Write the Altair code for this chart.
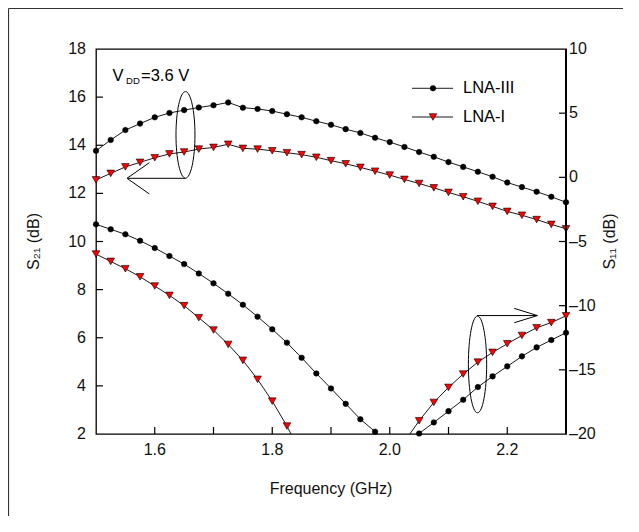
import altair as alt
import pandas as pd

FONT = "Liberation Sans"

# ---------------- data ----------------
freq = [1.5, 1.525, 1.55, 1.575, 1.6, 1.625, 1.65, 1.675, 1.7, 1.725, 1.75,
        1.775, 1.8, 1.825, 1.85, 1.875, 1.9, 1.925, 1.95, 1.975, 2.0, 2.025,
        2.05, 2.075, 2.1, 2.125, 2.15, 2.175, 2.2, 2.225, 2.25, 2.275, 2.3]

s21_lna3 = [13.77, 14.22, 14.63, 14.90, 15.16, 15.34, 15.46, 15.57, 15.66, 15.78, 15.56,
            15.51, 15.42, 15.29, 15.16, 15.00, 14.85, 14.67, 14.51, 14.31, 14.13, 13.93,
            13.72, 13.52, 13.30, 13.10, 12.90, 12.69, 12.45, 12.26, 12.07, 11.86, 11.63]

s21_lna1 = [12.56, 12.83, 13.10, 13.29, 13.48, 13.64, 13.72, 13.84, 13.91, 14.04, 13.87,
            13.84, 13.77, 13.69, 13.61, 13.50, 13.36, 13.23, 13.08, 12.92, 12.76, 12.58,
            12.41, 12.23, 12.04, 11.86, 11.67, 11.46, 11.25, 11.09, 10.91, 10.71, 10.53]

s11_lna3 = [-3.66, -4.05, -4.44, -4.94, -5.51, -6.13, -6.76, -7.49, -8.26, -9.07, -9.93,
            -10.86, -11.84, -12.89, -14.06, -15.28, -16.45, -17.65, -18.85, -19.82, -20.9, -21.0,
            -19.96, -19.10, -18.22, -17.33, -16.34, -15.51, -14.73, -13.95, -13.25, -12.68, -12.11]

s11_lna1 = [-5.98, -6.55, -7.12, -7.75, -8.47, -9.20, -10.00, -10.94, -11.90, -13.02, -14.26,
            -15.74, -17.44, -19.38, -21.6, None, None, None, None, None, None, -20.6,
            -18.97, -17.54, -16.37, -15.33, -14.40, -13.64, -12.97, -12.32, -11.72, -11.32, -10.79]

series_names = ["LNA-III", "LNA-I"]

x_label_values = [1.6, 1.8, 2.0, 2.2]
x_tick_values = [1.6, 1.7, 1.8, 1.9, 2.0, 2.1, 2.2]
s21_label_values = [2, 4, 6, 8, 10, 12, 14, 16, 18]
s21_tick_values = [4, 6, 8, 10, 12, 14, 16]
s11_label_values = [-20, -15, -10, -5, 0, 5, 10]
s11_tick_values = [-15, -10, -5, 0, 5]

x_title = "Frequency (GHz)"
y_left_title = "S₂₁ (dB)"
y_right_title = "S₁₁ (dB)"

# annotation anchors (data coordinates)
ell_left = {"x": 1.6523, "y": 14.43}
ell_right = {"x": 2.1494, "y": -14.58}
arrow_left = {"x1": [1.6523, 1.5528, 1.5528], "y1": [12.626, 12.626, 12.626],
              "x2": [1.5528, 1.5907, 1.5907], "y2": [12.626, 13.274, 11.978]}
arrow_right = {"x1": [2.1486, 2.2512, 2.2512], "y1": [-10.77, -10.77, -10.77],
               "x2": [2.2512, 2.2119, 2.2119], "y2": [-10.77, -10.21, -11.33]}
legend_rows = {"series": series_names, "y": [16.367, 15.174]}
legend_line_x = (2.0379, 2.1077)
legend_mark_x = 2.0736
legend_text_x = 2.1247

W, H = 470, 385

# ---------------- frames ----------------
s21 = pd.DataFrame({"freq": freq * 2, "val": s21_lna3 + s21_lna1,
                    "series": [series_names[0]] * len(freq) + [series_names[1]] * len(freq)})
s11 = pd.DataFrame({"freq": freq * 2, "val": s11_lna3 + s11_lna1,
                    "series": [series_names[0]] * len(freq) + [series_names[1]] * len(freq)})

sx = alt.Scale(domain=[1.5, 2.3], nice=False, zero=False)
sy21 = alt.Scale(domain=[2, 18], nice=False, zero=False)
sy11 = alt.Scale(domain=[-20, 10], nice=False, zero=False)

Xn = alt.X("freq:Q", scale=sx, axis=None)
Y21n = alt.Y("val:Q", scale=sy21, axis=None)
Y11n = alt.Y("val:Q", scale=sy11, axis=None)


def txt(**kw):
    base = dict(font=FONT, fontSize=16, color="#111")
    base.update(kw)
    return base


# ---------- S21 group (left axis) ----------
line21 = alt.Chart(s21).mark_line(color="black", strokeWidth=0.9, clip=True).encode(
    x=Xn, y=Y21n, detail="series:N")
pts21_a = alt.Chart(s21[s21.series == series_names[0]]).mark_point(
    shape="circle", filled=True, fill="black", stroke="black", strokeWidth=0.5,
    size=31, opacity=1).encode(x=Xn, y=Y21n)
pts21_b = alt.Chart(s21[s21.series == series_names[1]]).mark_point(
    shape="triangle-down", filled=True, fill="red", stroke="black", strokeWidth=0.6,
    size=58, opacity=1).encode(x=Xn, y=Y21n)

ticks_left = alt.Chart(pd.DataFrame({"v": s21_tick_values})).mark_tick(
    color="black", size=7, thickness=1.2, orient="horizontal", opacity=1).encode(
    y=alt.Y("v:Q", scale=sy21, axis=None), x=alt.value(3.5))
ticks_bottom = alt.Chart(pd.DataFrame({"f": x_tick_values})).mark_tick(
    color="black", size=7, thickness=1.2, orient="vertical", opacity=1).encode(
    x=alt.X("f:Q", scale=sx, axis=None), y=alt.value(H - 3.5))

labels_left = alt.Chart(pd.DataFrame({"v": s21_label_values})).transform_calculate(
    lab="format(datum.v, 'd')").mark_text(**txt(align="right", baseline="middle")).encode(
    y=alt.Y("v:Q", scale=sy21, axis=None), x=alt.value(-10), text="lab:N")
labels_bottom = alt.Chart(pd.DataFrame({"f": x_label_values})).transform_calculate(
    lab="format(datum.f, '.1f')").mark_text(**txt(align="center", baseline="alphabetic")).encode(
    x=alt.X("f:Q", scale=sx, axis=None), y=alt.value(H + 20.5), text="lab:N")
title_left = alt.Chart(pd.DataFrame({"t": [y_left_title]})).mark_text(
    **txt(align="center", baseline="middle", angle=270)).encode(
    x=alt.value(-62), y=alt.value(H / 2), text="t:N")
title_bottom = alt.Chart(pd.DataFrame({"t": [x_title]})).mark_text(
    **txt(align="center", baseline="alphabetic")).encode(
    x=alt.value(W / 2), y=alt.value(H + 60), text="t:N")

ELL_L = "M -0.219,0 A 0.219,1 0 1,0 0.219,0 A 0.219,1 0 1,0 -0.219,0 Z"
ell_l = alt.Chart(pd.DataFrame({"x": [ell_left["x"]], "y": [ell_left["y"]]})).mark_point(
    shape=ELL_L, size=7500, filled=False, stroke="black", strokeWidth=1, opacity=1).encode(
    x=alt.X("x:Q", scale=sx, axis=None), y=alt.Y("y:Q", scale=sy21, axis=None))
arr_l = alt.Chart(pd.DataFrame(arrow_left)).mark_rule(color="black", strokeWidth=1).encode(
    x=alt.X("x1:Q", scale=sx, axis=None), x2="x2:Q",
    y=alt.Y("y1:Q", scale=sy21, axis=None), y2="y2:Q")

vdd_v = alt.Chart(pd.DataFrame({"x": [1.5281], "y": [16.67], "t": ["V"]})).mark_text(
    font=FONT, fontSize=16.5, align="left", baseline="alphabetic", color="black").encode(
    x=alt.X("x:Q", scale=sx, axis=None), y=alt.Y("y:Q", scale=sy21, axis=None), text="t:N")
vdd_dd = alt.Chart(pd.DataFrame({"x": [1.5511], "y": [16.566], "t": ["DD"]})).mark_text(
    font=FONT, fontSize=9.5, align="left", baseline="alphabetic", color="black").encode(
    x=alt.X("x:Q", scale=sx, axis=None), y=alt.Y("y:Q", scale=sy21, axis=None), text="t:N")
vdd_eq = alt.Chart(pd.DataFrame({"x": [1.5766], "y": [16.67], "t": ["=3.6 V"]})).mark_text(
    font=FONT, fontSize=16.5, align="left", baseline="alphabetic", color="black").encode(
    x=alt.X("x:Q", scale=sx, axis=None), y=alt.Y("y:Q", scale=sy21, axis=None), text="t:N")

leg = pd.DataFrame(legend_rows)
leg["x1"] = legend_line_x[0]
leg["x2"] = legend_line_x[1]
leg["xm"] = legend_mark_x
leg["xt"] = legend_text_x
leg_line = alt.Chart(leg).mark_rule(color="black", strokeWidth=0.9).encode(
    x=alt.X("x1:Q", scale=sx, axis=None), x2="x2:Q", y=alt.Y("y:Q", scale=sy21, axis=None))
leg_pa = alt.Chart(leg[leg.series == series_names[0]]).mark_point(
    shape="circle", filled=True, fill="black", stroke="black", strokeWidth=0.5,
    size=31, opacity=1).encode(x=alt.X("xm:Q", scale=sx, axis=None),
                               y=alt.Y("y:Q", scale=sy21, axis=None))
leg_pb = alt.Chart(leg[leg.series == series_names[1]]).mark_point(
    shape="triangle-down", filled=True, fill="red", stroke="black", strokeWidth=0.6,
    size=58, opacity=1).encode(x=alt.X("xm:Q", scale=sx, axis=None),
                               y=alt.Y("y:Q", scale=sy21, axis=None))
leg_txt = alt.Chart(leg).mark_text(font=FONT, fontSize=16.5, align="left",
                                   baseline="middle", color="black").encode(
    x=alt.X("xt:Q", scale=sx, axis=None), y=alt.Y("y:Q", scale=sy21, axis=None),
    text="series:N")

frame_left = alt.Chart(pd.DataFrame({"a": [0]})).mark_rule(color="#333", strokeWidth=1.2).encode(
    x=alt.value(-87.5), y=alt.value(-40.5), y2=alt.value(470))
frame_top = alt.Chart(pd.DataFrame({"a": [0]})).mark_rule(color="#333", strokeWidth=1.2).encode(
    x=alt.value(-87.5), x2=alt.value(530), y=alt.value(-40.5))
right_axis_line = alt.Chart(pd.DataFrame({"a": [0]})).mark_rule(color="black", strokeWidth=2).encode(
    x=alt.value(W), y=alt.value(0), y2=alt.value(H))

group21 = alt.layer(line21, pts21_a, pts21_b, ticks_left, ticks_bottom,
                    labels_left, labels_bottom, title_left, title_bottom,
                    ell_l, arr_l, vdd_v, vdd_dd, vdd_eq,
                    leg_line, leg_pa, leg_pb, leg_txt,
                    frame_left, frame_top, right_axis_line)

# ---------- S11 group (right axis) ----------
line11 = alt.Chart(s11).mark_line(color="black", strokeWidth=0.9, clip=True).encode(
    x=Xn, y=Y11n, detail="series:N")
pts11_a = alt.Chart(s11[s11.series == series_names[0]]).transform_filter(
    "datum.val >= -20.3").mark_point(
    shape="circle", filled=True, fill="black", stroke="black", strokeWidth=0.5,
    size=31, opacity=1).encode(x=Xn, y=Y11n)
pts11_b = alt.Chart(s11[s11.series == series_names[1]]).transform_filter(
    "isValid(datum.val) && datum.val >= -20.3").mark_point(
    shape="triangle-down", filled=True, fill="red", stroke="black", strokeWidth=0.6,
    size=58, opacity=1).encode(x=Xn, y=Y11n)
ticks_right = alt.Chart(pd.DataFrame({"v": s11_tick_values})).mark_tick(
    color="black", size=7, thickness=1.2, orient="horizontal", opacity=1).encode(
    y=alt.Y("v:Q", scale=sy11, axis=None), x=alt.value(W - 3.5))
labels_right = alt.Chart(pd.DataFrame({"v": s11_label_values})).transform_calculate(
    lab="datum.v < 0 ? '–' + format(-datum.v, 'd') : format(datum.v, 'd')").mark_text(
    **txt(align="left", baseline="middle")).encode(
    y=alt.Y("v:Q", scale=sy11, axis=None), x=alt.value(W + 3), text="lab:N")
title_right = alt.Chart(pd.DataFrame({"t": [y_right_title]})).mark_text(
    **txt(align="center", baseline="middle", angle=270)).encode(
    x=alt.value(W + 44), y=alt.value(H / 2), text="t:N")

ELL_R = "M -0.189,0 A 0.189,1 0 1,0 0.189,0 A 0.189,1 0 1,0 -0.189,0 Z"
ell_r = alt.Chart(pd.DataFrame({"x": [ell_right["x"]], "y": [ell_right["y"]]})).mark_point(
    shape=ELL_R, size=9351, filled=False, stroke="black", strokeWidth=1, opacity=1).encode(
    x=alt.X("x:Q", scale=sx, axis=None), y=alt.Y("y:Q", scale=sy11, axis=None))
arr_r = alt.Chart(pd.DataFrame(arrow_right)).mark_rule(color="black", strokeWidth=1).encode(
    x=alt.X("x1:Q", scale=sx, axis=None), x2="x2:Q",
    y=alt.Y("y1:Q", scale=sy11, axis=None), y2="y2:Q")

group11 = alt.layer(line11, pts11_a, pts11_b, ticks_right, labels_right, title_right,
                    ell_r, arr_r)

chart = alt.layer(group21, group11).resolve_scale(y="independent").properties(
    width=W, height=H,
    autosize=alt.AutoSizeParams(type="none"),
    padding={"left": 88, "top": 41, "right": 57, "bottom": 82},
).configure_view(stroke="black", strokeWidth=1.3)

chart.save("out.html", embed_options={"renderer": "svg", "actions": False})
